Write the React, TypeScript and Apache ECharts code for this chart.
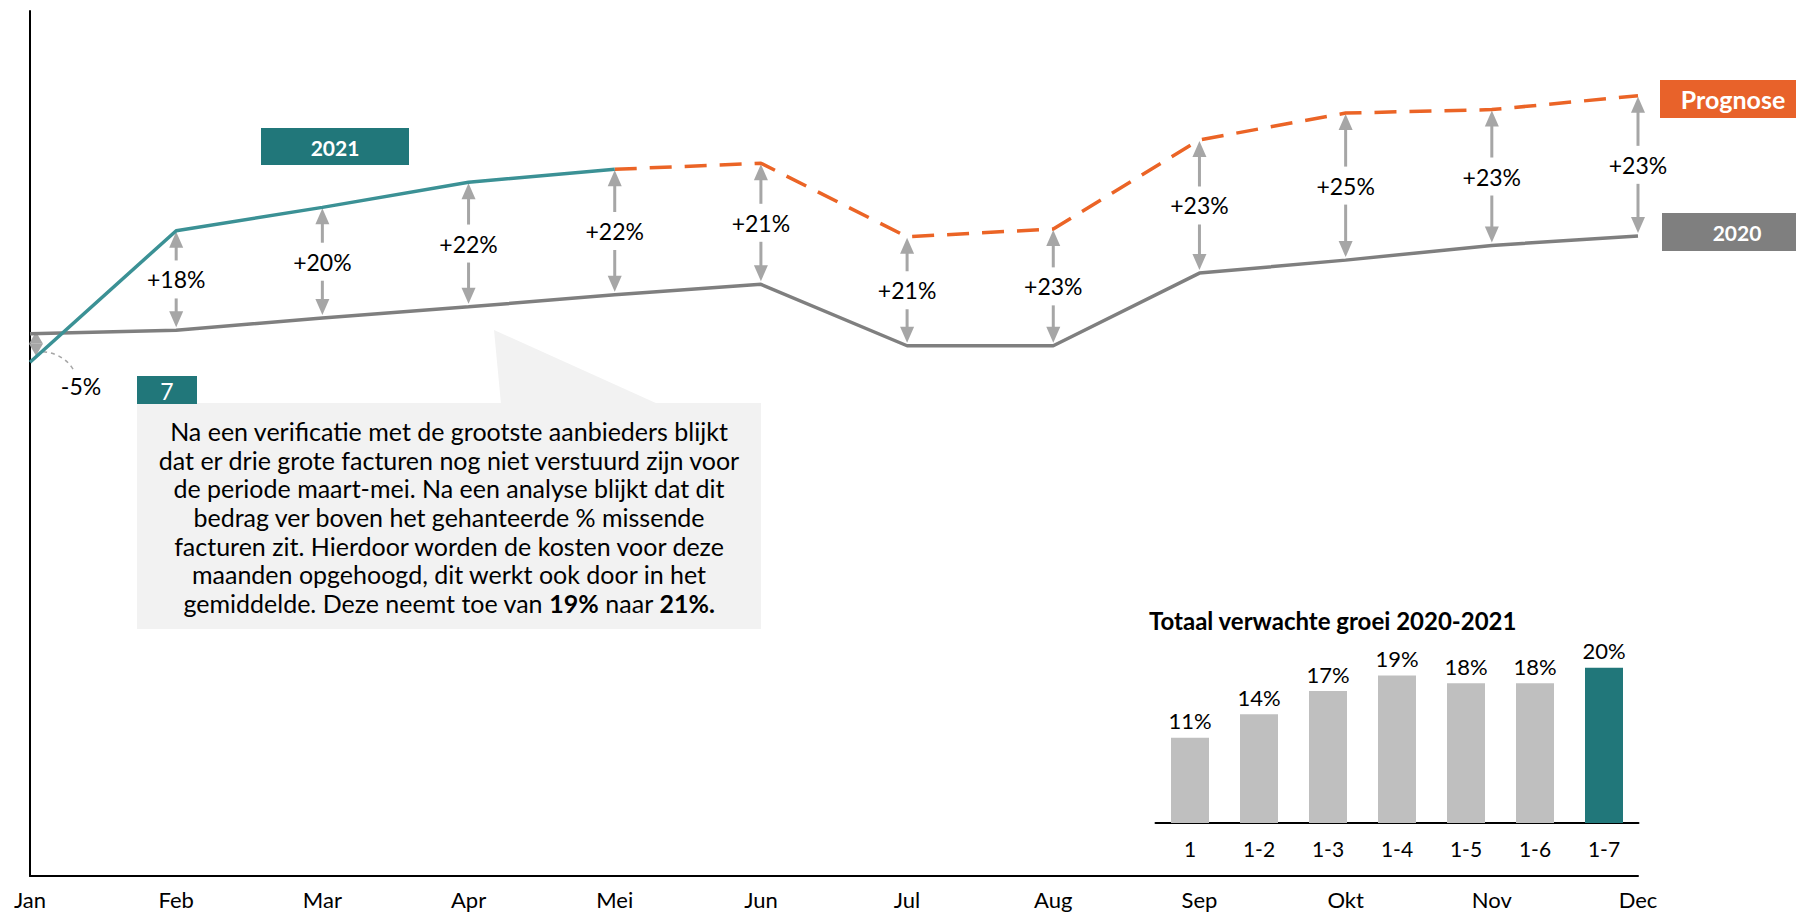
import React, { useEffect, useRef } from "react";
import * as echarts from "echarts";

const FONT = "Lato, 'Noto Sans', sans-serif";

const months = ["Jan", "Feb", "Mar", "Apr", "Mei", "Jun", "Jul", "Aug", "Sep", "Okt", "Nov", "Dec"];
const values2020 = [62.7, 63.1, 64.5, 65.8, 67.2, 68.4, 61.3, 61.3, 69.7, 71.2, 72.9, 74.0];
const values2021 = [59.4, 74.6, 77.3, 80.2, 81.7, null, null, null, null, null, null, null];
const valuesPrognose = [null, null, null, null, 81.7, 82.4, 73.9, 74.8, 85.1, 88.2, 88.6, 90.2];
const growthLabels = ["-5%", "+18%", "+20%", "+22%", "+22%", "+21%", "+21%", "+23%", "+23%", "+25%", "+23%", "+23%"];

const cumulativeCategories = ["1", "1-2", "1-3", "1-4", "1-5", "1-6", "1-7"];
const cumulativeGrowth = [11, 14, 17, 19, 18, 18, 20];

const noteLines = [
  "Na een verificatie met de grootste aanbieders blijkt",
  "dat er drie grote facturen nog niet verstuurd zijn voor",
  "de periode maart-mei. Na een analyse blijkt dat dit",
  "bedrag ver boven het gehanteerde % missende",
  "facturen zit. Hierdoor worden de kosten voor deze",
  "maanden opgehoogd, dit werkt ook door in het",
  "gemiddelde. Deze neemt toe van {b|19%} naar {b|21%.}",
];

const TEAL = "#21777A";
const TEAL_LINE = "#3B9195";
const ORANGE = "#EB6426";
const GRAY = "#7F7F7F";
const ARROW = "#A6A6A6";

export default function App() {
  const ref = useRef<HTMLDivElement>(null);

  useEffect(() => {
    if (!ref.current) return;
    const chart = echarts.init(ref.current, undefined, { renderer: "svg" });

    const arrowData = months.map((_, i) => [
      i,
      values2020[i],
      values2021[i] != null ? values2021[i] : valuesPrognose[i],
    ]);

    const renderArrow = (params: any, api: any) => {
      const i = api.value(0);
      const a = api.coord([i, api.value(1)]);
      const b = api.coord([i, api.value(2)]);
      const x = a[0];
      const top = Math.min(a[1], b[1]);
      const bot = Math.max(a[1], b[1]);
      const label = growthLabels[params.dataIndex];
      const children: any[] = [];
      const fill = { fill: ARROW };
      if (bot - top < 60) {
        const cx = x + 6;
        const m = top + 10;
        children.push({ type: "polygon", shape: { points: [[cx, top - 2], [cx - 7, m], [cx + 7, m]] }, style: fill });
        children.push({ type: "polygon", shape: { points: [[cx, top + 22], [cx - 7, m], [cx + 7, m]] }, style: fill });
        children.push({
          type: "bezierCurve",
          shape: { x1: cx + 7, y1: top + 18, cpx1: cx + 28, cpy1: top + 20, x2: cx + 38, y2: top + 37 },
          style: { stroke: ARROW, lineWidth: 1.5, lineDash: [4, 4], fill: null },
        });
        children.push({
          type: "text",
          x: cx + 45,
          y: top + 52,
          style: { text: label, fontSize: 23, fontFamily: FONT, fill: "#000", align: "center", verticalAlign: "middle" },
        });
      } else {
        const mid = (top + bot) / 2 - 1;
        const hw = 7;
        const hh = 16;
        const sw = 3;
        const gap = 19;
        const t = top + 1;
        const bb = bot - 3;
        children.push({ type: "polygon", shape: { points: [[x, t], [x - hw, t + hh], [x + hw, t + hh]] }, style: fill });
        children.push({ type: "rect", shape: { x: x - sw / 2, y: t + hh - 1, width: sw, height: mid - gap - (t + hh - 1) }, style: fill });
        children.push({ type: "rect", shape: { x: x - sw / 2, y: mid + gap, width: sw, height: bb - hh + 1 - (mid + gap) }, style: fill });
        children.push({ type: "polygon", shape: { points: [[x, bb], [x - hw, bb - hh], [x + hw, bb - hh]] }, style: fill });
        children.push({
          type: "text",
          x: x,
          y: mid,
          style: { text: label, fontSize: 23, fontFamily: FONT, fill: "#000", align: "center", verticalAlign: "middle" },
        });
      }
      return { type: "group", children };
    };

    const option: any = {
      animation: false,
      backgroundColor: "#fff",
      textStyle: { fontFamily: FONT },
      title: {
        text: "Totaal verwachte groei 2020-2021",
        left: 1144,
        top: 603,
        textStyle: { fontFamily: FONT, fontSize: 24, fontWeight: "bold", color: "#000" },
      },
      grid: [
        { left: 30, right: 158, top: 11, bottom: 36 },
        { left: 1155.5, width: 483, top: 629, height: 194 },
      ],
      xAxis: [
        {
          type: "category",
          gridIndex: 0,
          data: months,
          boundaryGap: false,
          axisLine: { lineStyle: { color: "#000", width: 2 } },
          axisTick: { show: false },
          axisLabel: { fontSize: 22, color: "#000", margin: 12, fontFamily: FONT },
        },
        {
          type: "category",
          gridIndex: 1,
          data: cumulativeCategories,
          axisLine: { lineStyle: { color: "#000", width: 2 } },
          axisTick: { show: false },
          axisLabel: { fontSize: 21, color: "#000", margin: 15, fontFamily: FONT },
        },
      ],
      yAxis: [
        {
          type: "value",
          gridIndex: 0,
          min: 0,
          max: 100,
          axisLine: { show: true, lineStyle: { color: "#000", width: 2 } },
          axisTick: { show: false },
          axisLabel: { show: false },
          splitLine: { show: false },
        },
        {
          type: "value",
          gridIndex: 1,
          min: 0,
          max: 25,
          show: false,
          splitLine: { show: false },
        },
      ],
      series: [
        {
          type: "custom",
          name: "groei",
          xAxisIndex: 0,
          yAxisIndex: 0,
          clip: false,
          z: 1,
          data: arrowData,
          renderItem: renderArrow,
        },
        {
          type: "line",
          name: "2020",
          data: values2020,
          showSymbol: false,
          symbol: "none",
          lineStyle: { color: GRAY, width: 3.5 },
          z: 3,
        },
        {
          type: "line",
          name: "Prognose",
          data: valuesPrognose,
          showSymbol: false,
          symbol: "none",
          lineStyle: { color: ORANGE, width: 3.5, type: [22, 13] },
          z: 3,
        },
        {
          type: "line",
          name: "2021",
          data: values2021,
          showSymbol: false,
          symbol: "none",
          lineStyle: { color: TEAL_LINE, width: 3.5 },
          z: 4,
        },
        {
          type: "bar",
          name: "Totaal verwachte groei",
          xAxisIndex: 1,
          yAxisIndex: 1,
          barWidth: 38,
          data: cumulativeGrowth.map((v, i) => ({
            value: v,
            itemStyle: { color: i === cumulativeGrowth.length - 1 ? TEAL : "#BFBFBF" },
          })),
          label: {
            show: true,
            position: "top",
            distance: 6,
            formatter: "{c}%",
            fontSize: 22,
            color: "#000",
            fontFamily: FONT,
          },
        },
      ],
      graphic: [
        { type: "polygon", z: 0, shape: { points: [[494, 330], [501, 404], [658, 404]] }, style: { fill: "#F2F2F2" } },
        { type: "rect", z: 0, shape: { x: 137, y: 403, width: 624, height: 226 }, style: { fill: "#F2F2F2" } },
        { type: "rect", shape: { x: 137, y: 376, width: 60, height: 28 }, style: { fill: TEAL } },
        {
          type: "text",
          x: 167,
          y: 391,
          style: { text: "7", fill: "#fff", fontSize: 23, fontFamily: FONT, align: "center", verticalAlign: "middle" },
        },
        {
          type: "text",
          x: 449,
          y: 517,
          style: {
            text: noteLines.join("\n"),
            fill: "#000",
            fontSize: 25,
            fontFamily: FONT,
            lineHeight: 28.7,
            align: "center",
            verticalAlign: "middle",
            rich: { b: { fontWeight: "bold", fontSize: 25, fontFamily: FONT, fill: "#000", lineHeight: 28.7 } },
          },
        },
        { type: "rect", shape: { x: 261, y: 128, width: 148, height: 37 }, style: { fill: TEAL } },
        {
          type: "text",
          x: 335,
          y: 147,
          style: { text: "2021", fill: "#fff", fontSize: 21, fontWeight: "bold", fontFamily: FONT, align: "center", verticalAlign: "middle" },
        },
        { type: "rect", shape: { x: 1660, y: 80, width: 136, height: 38 }, style: { fill: "#E8622A" } },
        {
          type: "text",
          x: 1733,
          y: 99,
          style: { text: "Prognose", fill: "#fff", fontSize: 25, fontWeight: "bold", fontFamily: FONT, align: "center", verticalAlign: "middle" },
        },
        { type: "rect", shape: { x: 1662, y: 213, width: 134, height: 38 }, style: { fill: GRAY } },
        {
          type: "text",
          x: 1737,
          y: 232,
          style: { text: "2020", fill: "#fff", fontSize: 21, fontWeight: "bold", fontFamily: FONT, align: "center", verticalAlign: "middle" },
        },
      ],
    };

    chart.setOption(option);
    return () => chart.dispose();
  }, []);

  return <div ref={ref} style={{ width: 1796, height: 912, position: "absolute", left: 0, top: 0 }} />;
}
